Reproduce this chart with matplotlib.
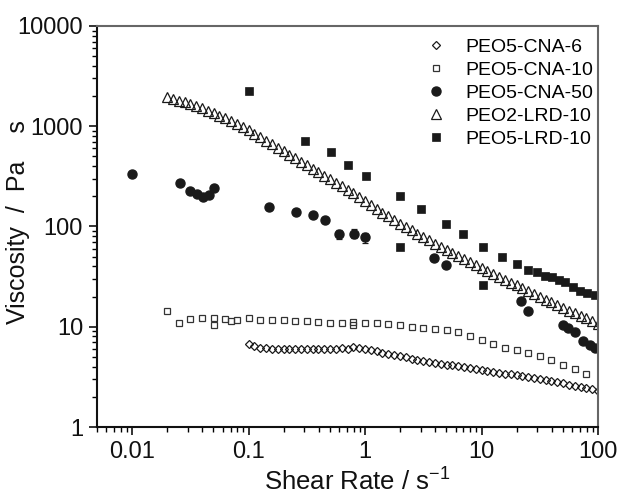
import matplotlib
matplotlib.use("Agg")
import matplotlib.pyplot as plt
from matplotlib.ticker import FixedLocator, FixedFormatter, LogLocator, NullFormatter

plt.rcParams['font.family'] = ['Liberation Sans', 'DejaVu Sans']
plt.rcParams['mathtext.fontset'] = 'custom'
plt.rcParams['mathtext.rm'] = 'Liberation Sans'
plt.rcParams['mathtext.it'] = 'Liberation Sans:italic'

# ---------------- data ----------------
# PEO2-LRD-10 (open triangles)
lrd2_x = [0.02, 0.0224, 0.0251, 0.0282, 0.0316, 0.0355, 0.0398, 0.0447, 0.0501, 0.0562,
          0.0631, 0.0708, 0.0794, 0.0891, 0.1, 0.112, 0.126, 0.141, 0.158, 0.178,
          0.2, 0.224, 0.251, 0.282, 0.316, 0.355, 0.398, 0.447, 0.501, 0.562,
          0.631, 0.708, 0.794, 0.891, 1, 1.12, 1.26, 1.41, 1.58, 1.78,
          2, 2.24, 2.51, 2.82, 3.16, 3.55, 3.98, 4.47, 5.01, 5.62,
          6.31, 7.08, 7.94, 8.91, 10, 11.2, 12.6, 14.1, 15.8, 17.8,
          20, 22.4, 25.1, 28.2, 31.6, 35.5, 39.8, 44.7, 50.1, 56.2,
          63.1, 70.8, 79.4, 89.1, 100]
lrd2_y = [1950, 1875, 1803, 1730, 1656, 1581, 1507, 1429, 1352, 1276,
          1199, 1125, 1050, 977, 908, 841, 778, 719, 664, 612,
          565, 521, 481, 444, 409, 378, 348, 321, 296, 274,
          252, 232, 214, 197, 179, 163, 149, 137, 126, 116,
          107, 99, 91.5, 85.0, 78.5, 72.8, 67.5, 62.8, 58.3, 54.2,
          50.5, 47.2, 44.1, 41.2, 38.5, 36.1, 33.7, 31.6, 29.5, 27.6,
          25.8, 24.2, 22.6, 21.2, 19.9, 18.6, 17.5, 16.4, 15.3, 14.5,
          13.6, 12.8, 12.1, 11.4, 10.7]

# PEO5-CNA-6 (open diamonds)
cna6_x = [0.1, 0.112, 0.126, 0.141, 0.158, 0.178, 0.2, 0.224, 0.251, 0.282,
          0.316, 0.355, 0.398, 0.447, 0.501, 0.562, 0.631, 0.708, 0.794, 0.891,
          1, 1.12, 1.26, 1.41, 1.58, 1.78, 2, 2.24, 2.51, 2.82,
          3.16, 3.55, 3.98, 4.47, 5.01, 5.62, 6.31, 7.08, 7.94, 8.91,
          10, 11.2, 12.6, 14.1, 15.8, 17.8, 20, 22.4, 25.1, 28.2,
          31.6, 35.5, 39.8, 44.7, 50.1, 56.2, 63.1, 70.8, 79.4, 89.1, 100]
cna6_y = [6.8, 6.4, 6.2, 6.1, 6.05, 6.0, 6.0, 6.0, 6.0, 6.0,
          6.0, 6.0, 5.95, 5.95, 6.0, 6.05, 6.1, 6.0, 6.3, 6.1,
          6.0, 5.83, 5.68, 5.52, 5.37, 5.22, 5.08, 4.94, 4.81, 4.69,
          4.57, 4.47, 4.38, 4.29, 4.20, 4.11, 4.03, 3.94, 3.86, 3.78,
          3.71, 3.63, 3.56, 3.48, 3.41, 3.34, 3.27, 3.21, 3.13, 3.06,
          2.99, 2.92, 2.86, 2.79, 2.73, 2.65, 2.58, 2.51, 2.44, 2.38, 2.31]

# PEO5-CNA-10 (open squares)
cna10_x = [0.02, 0.0251, 0.0316, 0.0398, 0.0501, 0.0501, 0.0631, 0.0708, 0.0794, 0.1,
           0.126, 0.158, 0.2, 0.251, 0.316, 0.398, 0.501, 0.631, 0.794, 0.794,
           1, 1.26, 1.58, 2, 2.51, 3.16, 3.98, 5.01, 6.31, 7.94,
           10, 12.6, 15.8, 20, 25.1, 31.6, 39.8, 50.1, 63.1, 79.4]
cna10_y = [14.3, 11.0, 12.0, 12.2, 12.2, 10.3, 12.0, 11.3, 11.8, 12.2,
           11.8, 11.7, 11.6, 11.5, 11.3, 11.1, 11.0, 11.0, 11.2, 10.4,
           10.9, 10.9, 10.7, 10.3, 10.0, 9.8, 9.5, 9.3, 8.9, 8.0,
           7.4, 6.8, 6.2, 5.9, 5.5, 5.1, 4.7, 4.2, 3.8, 3.4]

# PEO5-CNA-50 (filled circles)
cna50_x = [0.01, 0.0257, 0.0313, 0.036, 0.041, 0.046, 0.051, 0.151, 0.257, 0.36,
           0.455, 0.6, 0.8, 1.0, 3.9, 5.0, 21.9, 25, 50, 55,
           63, 74, 85, 94]
cna50_y = [335, 272, 228, 212, 195, 204, 240, 158, 141, 129,
           117, 84, 85, 78, 48, 41, 18, 14.5, 10.5, 9.8,
           8.9, 7.2, 6.6, 6.1]
cna50_err = [0, 0, 0, 0, 0, 0, 0, 0, 0, 0,
             0, 9, 9, 9, 0, 0, 0, 0, 0, 0,
             0, 0, 0, 0]

# PEO5-LRD-10 (filled squares)
lrd5_x = [0.1, 0.307, 0.51, 0.72, 1.02, 2.0, 2.0, 3.0, 5.0, 7.0,
          10.2, 10.2, 15, 20, 25, 30, 35, 40, 46, 52,
          61, 70, 81, 94]
lrd5_y = [2240, 708, 550, 407, 318, 200, 62, 151, 105, 85,
          63, 26, 50, 42, 37, 35, 32, 31, 29, 28,
          25, 22.5, 21.5, 20.5]

series_labels = ["PEO5-CNA-6", "PEO5-CNA-10", "PEO5-CNA-50", "PEO2-LRD-10", "PEO5-LRD-10"]
x_ticks = [0.01, 0.1, 1, 10, 100]
x_ticklabels = ["0.01", "0.1", "1", "10", "100"]
y_ticks = [1, 10, 100, 1000, 10000]
y_ticklabels = ["1", "10", "100", "1000", "10000"]

# ---------------- figure ----------------
fig = plt.figure(figsize=(6.22, 5.0), dpi=100)
ax = fig.add_axes([97/622, 73/500, 501/622, 401/500])

ink = '#1a1a1a'
h1, = ax.plot(cna6_x, cna6_y, ls='none', marker='D', ms=4.3, mfc='none', mec=ink, mew=0.9)
h2, = ax.plot(cna10_x, cna10_y, ls='none', marker='s', ms=4.6, mfc='none', mec='#333333', mew=0.9)
eb = ax.errorbar(cna50_x, cna50_y, yerr=cna50_err, fmt='o', ms=6.5, mfc=ink, mec=ink,
                 ecolor=ink, elinewidth=0.9, capsize=2.5, capthick=0.9)
h3 = eb[0]
h4, = ax.plot(lrd2_x, lrd2_y, ls='none', marker='^', ms=6.5, mfc='none', mec=ink, mew=0.9)
h5, = ax.plot(lrd5_x, lrd5_y, ls='none', marker='s', ms=5.4, mfc=ink, mec=ink, mew=0.5)

ax.set_xscale('log')
ax.set_yscale('log')
ax.set_xlim(0.005, 100)
ax.set_ylim(1, 10000)

ax.xaxis.set_major_locator(FixedLocator(x_ticks))
ax.xaxis.set_major_formatter(FixedFormatter(x_ticklabels))
ax.yaxis.set_major_locator(FixedLocator(y_ticks))
ax.yaxis.set_major_formatter(FixedFormatter(y_ticklabels))
ax.xaxis.set_minor_locator(LogLocator(base=10, subs=range(2, 10), numticks=20))
ax.yaxis.set_minor_locator(LogLocator(base=10, subs=range(2, 10), numticks=20))
ax.xaxis.set_minor_formatter(NullFormatter())
ax.yaxis.set_minor_formatter(NullFormatter())

ax.tick_params(which='major', direction='out', length=6, width=1.2, labelsize=17,
               colors='#111111', pad=4, top=False, right=False)
ax.tick_params(which='minor', direction='out', length=3.5, width=1.0, top=False, right=False)

for side in ['left', 'bottom']:
    ax.spines[side].set_linewidth(1.5)
    ax.spines[side].set_color('#111111')
for side in ['top', 'right']:
    ax.spines[side].set_linewidth(1.5)
    ax.spines[side].set_color('#666666')

ax.set_xlabel("Shear Rate / s$^{-1}$", fontsize=18.5, color='#111111')
ax.xaxis.set_label_coords(0.52, -0.102)
ax.set_ylabel("Viscosity  /  Pa    s", fontsize=18, color='#111111')
ax.yaxis.set_label_coords(-0.134, 0.51)

leg = fig.legend([h1, h2, h3, h4, h5], series_labels, loc='upper left',
                 bbox_to_anchor=(426/622, 462/500), frameon=False, fontsize=14,
                 handlelength=1.0, handletextpad=1.0, labelspacing=0.28, borderpad=0,
                 borderaxespad=0, numpoints=1)

fig.savefig("out.png", dpi=100)
